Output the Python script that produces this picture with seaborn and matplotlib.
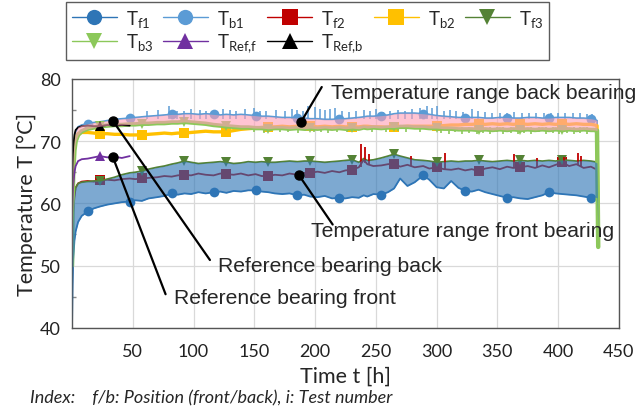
import numpy as np
import pandas as pd
import seaborn as sns
import matplotlib.pyplot as plt
from matplotlib.lines import Line2D

# time grid [h]
t = [0, 0.5, 1, 2, 3, 5, 8,
     13, 18, 23, 29, 35, 41, 47.5,
     52, 57.5, 63, 70, 76, 82, 87,
     92.5, 98, 104, 110, 116.5, 122, 127,
     133, 139, 145, 151, 156, 161.5, 167,
     173, 179, 185.5, 191, 196, 202, 208,
     214, 220, 225, 230.5, 236, 240, 243,
     248, 254.5, 260, 265, 270, 276, 282,
     289, 294, 300, 306, 312, 318, 323.5,
     329, 334.5, 340, 346, 352, 358, 363,
     369, 375, 381, 387, 392.5, 398, 403.5,
     409, 415, 421, 427, 430, 432, 433]

# marker times
mark_a = [13, 47.5, 82, 116.5, 151, 185.5, 220, 254.5, 289, 323.5, 358, 392.5, 427]
mark_b = [23, 57.5, 92.5, 127, 161.5, 196, 230.5, 265, 300, 334.5, 369, 403.5]

# front bearing
T_f1 = [40, 47, 51, 54, 55.5, 57, 58,
        58.7, 59.2, 59.5, 59.8, 60.0, 60.2, 60.3,
        60.5, 60.4, 60.8, 61.0, 61.2, 61.6, 61.4,
        61.6, 61.5, 61.8, 61.6, 61.8, 61.9, 61.7,
        62.0, 61.9, 62.1, 62.1, 61.9, 61.8, 61.6,
        61.5, 61.6, 61.3, 61.4, 61.1, 61.0, 61.2,
        60.8, 60.9, 60.8, 61.0, 60.9, 61.3, 61.1,
        61.5, 61.4, 61.8, 62.4, 64.0, 62.8, 63.4,
        64.5, 63.8, 62.6, 62.4, 63.6, 62.5, 62.0,
        61.9, 62.2, 61.8, 61.5, 61.2, 60.9, 61.0,
        60.8, 60.7, 61.0, 61.3, 61.8, 61.6, 61.5,
        61.4, 61.3, 61.1, 60.9, 61.0, 60.9, 53.5]
T_f2 = [50, 55, 58.5, 61, 62.5, 63.2, 63.5,
        63.6, 63.5, 63.7, 63.8, 63.7, 63.9, 64.0,
        63.9, 64.0, 64.1, 64.2, 64.4, 64.3, 64.5,
        64.6, 64.5, 64.8, 64.6, 64.5, 64.8, 64.7,
        64.6, 64.8, 64.5, 64.7, 64.4, 64.4, 64.6,
        64.5, 64.8, 64.6, 64.9, 64.9, 65.1, 64.9,
        65.2, 65.0, 65.3, 65.4, 65.8, 67.0, 66.3,
        66.0, 66.1, 66.3, 66.4, 65.9, 66.2, 65.8,
        66.0, 65.6, 65.8, 65.5, 65.4, 65.6, 65.3,
        65.5, 65.2, 65.6, 65.8, 65.5, 65.9, 65.7,
        65.8, 66.0, 65.7, 66.1, 65.8, 66.2, 66.6,
        66.0, 66.3, 65.7, 65.9, 65.6, 65.5, 53.5]
T_f3 = [50, 56, 59, 61.5, 62.5, 63.2, 63.4,
        63.5, 63.6, 63.6, 63.9, 64.2, 64.6, 64.9,
        65.0, 65.2, 65.5, 65.8, 66.0, 66.3, 66.5,
        66.8, 66.6, 66.4, 66.5, 66.6, 66.7, 66.6,
        66.4, 66.5, 66.7, 66.6, 66.7, 66.6, 66.6,
        66.7, 66.8, 66.7, 66.8, 66.8, 66.7, 66.6,
        66.7, 66.8, 66.9, 67.0, 66.6, 67.2, 66.9,
        67.0, 67.3, 67.6, 67.9, 67.6, 67.3, 67.0,
        66.9, 66.8, 66.6, 66.7, 66.8, 66.7, 66.8,
        66.8, 66.9, 66.8, 66.7, 66.8, 66.9, 66.8,
        66.9, 66.8, 66.9, 66.8, 66.9, 66.8, 67.0,
        66.9, 66.8, 66.9, 66.8, 66.7, 66.5, 53.0]

# back bearing
T_b1 = [55, 64, 68, 70.5, 71.5, 72.3, 72.6,
        72.8, 73.0, 73.1, 73.3, 73.5, 73.6, 73.7,
        73.8, 73.9, 74.0, 74.1, 74.2, 74.3, 74.3,
        74.4, 74.4, 74.3, 74.4, 74.3, 74.2, 74.3,
        74.2, 74.3, 74.2, 74.1, 74.0, 74.0, 73.9,
        73.8, 73.8, 73.7, 73.7, 73.6, 73.6, 73.5,
        73.5, 73.6, 73.6, 73.7, 73.8, 73.9, 74.0,
        74.0, 74.1, 74.2, 74.4, 74.5, 74.5, 74.5,
        74.4, 74.3, 74.1, 74.0, 73.9, 73.8, 73.8,
        73.8, 73.8, 73.7, 73.7, 73.8, 73.8, 73.7,
        73.7, 73.8, 73.8, 73.7, 73.7, 73.8, 73.8,
        73.8, 73.7, 73.7, 73.6, 73.5, 73.3, 54.0]
T_b2 = [55, 62, 66, 69, 70.5, 71.2, 71.4,
        71.4, 71.3, 71.2, 71.2, 71.1, 71.1, 71.0,
        71.0, 71.0, 71.1, 71.2, 71.3, 71.2, 71.3,
        71.3, 71.4, 71.5, 71.6, 71.5, 71.5, 71.5,
        71.7, 71.9, 72.0, 72.1, 72.2, 72.3, 72.3,
        72.4, 72.3, 72.4, 72.3, 72.4, 72.3, 72.4,
        72.3, 72.4, 72.3, 72.3, 72.3, 72.4, 72.4,
        72.3, 72.3, 72.2, 72.3, 72.3, 72.4, 72.4,
        72.4, 72.4, 72.4, 72.5, 72.6, 72.6, 72.7,
        72.7, 72.8, 72.7, 72.8, 72.7, 72.8, 72.7,
        72.8, 72.7, 72.8, 72.7, 72.8, 72.7, 72.8,
        72.7, 72.8, 72.7, 72.7, 72.6, 72.5, 54.0]
T_b3 = [50, 60, 65, 68.5, 70.0, 71.0, 71.6,
        72.0, 72.2, 72.4, 72.5, 72.6, 72.6, 72.7,
        72.7, 72.8, 72.8, 72.9, 72.9, 73.0, 73.0,
        73.1, 73.0, 72.9, 72.8, 72.6, 72.5, 72.4,
        72.3, 72.2, 72.2, 72.1, 72.1, 72.0, 72.1,
        72.1, 72.0, 72.1, 72.0, 72.1, 72.0, 72.1,
        72.0, 72.1, 72.0, 72.1, 72.0, 72.2, 72.1,
        72.2, 72.1, 72.2, 72.2, 72.3, 72.3, 72.2,
        72.2, 72.1, 72.1, 72.0, 72.0, 71.9, 71.9,
        71.9, 71.8, 71.9, 71.8, 71.9, 71.8, 71.9,
        71.8, 71.9, 71.8, 71.9, 71.8, 71.9, 71.8,
        71.9, 71.8, 71.9, 71.8, 71.8, 71.7, 53.0]

# reference bearing (first test only)
t_ref = [0, 0.5, 1, 2, 3, 5, 8, 13, 18, 23, 29, 35, 41, 47.5]
T_ref_f = [58, 61, 63, 65, 66, 66.8, 67.1, 67.2, 67.4, 67.6, 67.4, 67.5, 67.3, 67.6]
T_ref_b = [60, 66, 69, 71, 71.8, 72.2, 72.4, 72.5, 72.4, 72.4, 72.6, 72.5, 72.6, 72.5]
mark_ref = [23]

# short peaks
f2_spike_t = [238, 241, 244, 279, 307, 364, 383, 405, 416, 419]
f2_spike_lo = [65.8, 66.5, 66.3, 66.0, 65.5, 65.8, 65.8, 66.4, 66.2, 66.0]
f2_spike_hi = [69.5, 69.0, 68.0, 67.6, 68.1, 67.9, 67.3, 67.5, 68.1, 67.6]

b1_spike_t = [62, 71, 80, 86, 92, 98, 105, 110, 117, 124, 130, 135, 142, 150, 155,
              160, 168, 175, 181, 185, 190, 194, 200, 204, 208, 212, 216, 222, 228,
              234, 240, 245, 250, 256, 262, 268, 274, 280, 286, 292, 296, 300, 306,
              311, 316, 322, 329, 334, 340, 346, 352, 358, 364, 370, 376, 382, 388,
              394, 400, 406, 412, 418, 424, 428]
b1_spike_hi = [74.8, 75.0, 75.7, 74.9, 74.9, 75.1, 75.0, 74.8, 75.0, 75.2, 75.0, 74.9,
               75.1, 75.3, 74.9, 74.9, 75.0, 74.8, 75.2, 75.0, 74.9, 75.6, 75.5, 75.1,
               75.0, 75.2, 75.4, 74.9, 74.7, 74.8, 75.0, 74.8, 75.1, 74.7, 74.8, 75.0,
               74.9, 75.1, 75.3, 75.6, 75.3, 75.7, 74.9, 75.0, 74.8, 74.7, 75.2, 74.8,
               74.7, 74.6, 74.5, 74.6, 74.7, 74.6, 74.5, 74.6, 74.5, 74.6, 74.5, 74.6,
               74.5, 74.6, 74.4, 74.4]

b3_spike_t = [150, 158, 164, 171, 178, 186, 192, 199, 205, 211, 218, 226, 233, 247,
              258, 268, 275, 286, 304, 310, 315, 321, 327, 333, 338, 344, 350, 355,
              361, 367, 372, 378, 384, 390, 396, 401, 407, 413, 418, 424]
b3_spike_lo = [71.5, 71.3, 71.6, 71.4, 71.5, 71.3, 71.6, 71.4, 71.5, 71.3, 71.5, 71.4,
               71.6, 71.5, 71.4, 71.6, 71.5, 71.4, 71.3, 71.2, 71.4, 71.2, 71.3, 71.1,
               71.3, 71.2, 71.4, 71.2, 71.3, 71.1, 71.3, 71.2, 71.4, 71.2, 71.3, 71.1,
               71.3, 71.2, 71.3, 71.2]

sns.set_theme(style="whitegrid")
plt.rcParams['font.family'] = ['Lato', 'DejaVu Sans']
plt.rcParams['mathtext.default'] = 'regular'

fig, ax = plt.subplots(figsize=(6.4, 4.1), dpi=100)
fig.subplots_adjust(left=0.1125, right=0.967, bottom=0.198, top=0.805)

series = [
    ('f1', T_f1, '#2e75b6', 'o', mark_a, 1.3),
    ('f2', T_f2, '#c00000', 's', mark_b, 1.3),
    ('f3', T_f3, '#548235', 'v', mark_b, 1.3),
    ('b1', T_b1, '#5b9bd5', 'o', mark_a, 1.3),
    ('b2', T_b2, '#ffc000', 's', mark_b, 2.4),
    ('b3', T_b3, '#8cc85a', 'v', mark_b, 3.2),
]
for name, vals, col, mk, marks, lw in series:
    idx = [t.index(m) for m in marks]
    sns.lineplot(x=t, y=vals, ax=ax, color=col, lw=lw, marker=mk, markevery=idx,
                 markersize=7, markeredgewidth=0, zorder=2)

ref_idx = [t_ref.index(m) for m in mark_ref]
sns.lineplot(x=t_ref, y=T_ref_f, ax=ax, color='#7030a0', lw=1.3, marker='^',
             markevery=ref_idx, markersize=7, markeredgewidth=0, zorder=2)
sns.lineplot(x=t_ref, y=T_ref_b, ax=ax, color='black', lw=1.3, marker='^',
             markevery=ref_idx, markersize=7, markeredgewidth=0, zorder=2)

ax.vlines(f2_spike_t, f2_spike_lo, f2_spike_hi, colors='#c00000', lw=1.3, zorder=2)
ax.vlines(b1_spike_t, [73.6] * len(b1_spike_t), b1_spike_hi, colors='#5b9bd5', lw=1.1, zorder=2)
ax.vlines(b3_spike_t, b3_spike_lo, [72.2] * len(b3_spike_t), colors='#8cc85a', lw=1.2, zorder=2)

# temperature ranges
ax.fill_between(t, T_f1, T_f3, color='#2e75b6', alpha=0.62, lw=0, zorder=3)
ax.fill_between(t, T_b3, T_b1, color='#ff9eb5', alpha=0.6, lw=0, zorder=3)

# annotations
txt_kw = dict(fontsize=15.2, family='Liberation Sans', va='center', ha='left', zorder=6)
arr_kw = dict(arrowstyle='-', color='black', lw=1.6, shrinkA=0, shrinkB=0)
notes = [
    ("Temperature range back bearing", (188.5, 73.1), (205.5, 78.7), (213, 77.9)),
    ("Temperature range front bearing", (186.5, 64.6), (214.5, 56.6), (197, 55.6)),
    ("Reference bearing back", (33.5, 73.3), (113.5, 50.9), (120, 50.0)),
    ("Reference bearing front", (33.5, 67.5), (77, 45.4), (84, 44.8)),
]
for label, dot, end, pos in notes:
    ax.annotate('', xy=dot, xytext=end, arrowprops=arr_kw, zorder=6)
    ax.plot(*dot, 'o', color='black', markersize=6.5, zorder=7)
    ax.text(pos[0], pos[1], label, **txt_kw)

ax.set_xlim(0, 450)
ax.set_ylim(40, 80)
ax.set_xticks(range(50, 451, 50))
ax.set_yticks(range(40, 81, 10))
ax.set_yticks(range(45, 80, 10), minor=True)
ax.grid(True, which='major', color='#d9d9d9', lw=0.9)
ax.tick_params(axis='both', labelsize=13, colors='#222222', length=0)
ax.tick_params(axis='x', pad=11)
ax.tick_params(axis='y', pad=8)
ax.tick_params(axis='y', which='minor', length=3, direction='in', left=True, color='#888888')
for sp in ax.spines.values():
    sp.set_color('#555555')
    sp.set_linewidth(1.0)
ax.set_xlabel('Time t [h]', fontsize=15.5, labelpad=5)
ax.set_ylabel('Temperature T [°C]', fontsize=15.5, labelpad=2)

# legend (column-major order to fill row by row)
entries = [
    ('T$_{f1}$', '#2e75b6', 'o'), ('T$_{b3}$', '#8cc85a', 'v'),
    ('T$_{b1}$', '#5b9bd5', 'o'), ('T$_{Ref{,}f}$', '#7030a0', '^'),
    ('T$_{f2}$', '#c00000', 's'), ('T$_{Ref{,}b}$', 'black', '^'),
    ('T$_{b2}$', '#ffc000', 's'),
    ('T$_{f3}$', '#548235', 'v'),
]
handles = [Line2D([], [], color=c, marker=m, markersize=11, markeredgewidth=0, lw=1.0)
           for _, c, m in entries]
leg = fig.legend(handles, [e[0] for e in entries], ncol=5, loc='upper left',
                 bbox_to_anchor=(66 / 640, 1 - 3 / 410), borderaxespad=0,
                 fontsize=13.5, frameon=True, fancybox=False, edgecolor='#333333',
                 handlelength=2.4, handletextpad=0.5, columnspacing=0.5,
                 borderpad=0.3, labelspacing=0.15)
leg.get_frame().set_linewidth(1.0)

fig.text(30 / 640, 1 - 398 / 410, 'Index:    f/b: Position (front/back), i: Test number',
         fontsize=13, style='italic', va='center', ha='left')

fig.savefig('out.png', dpi=100)
